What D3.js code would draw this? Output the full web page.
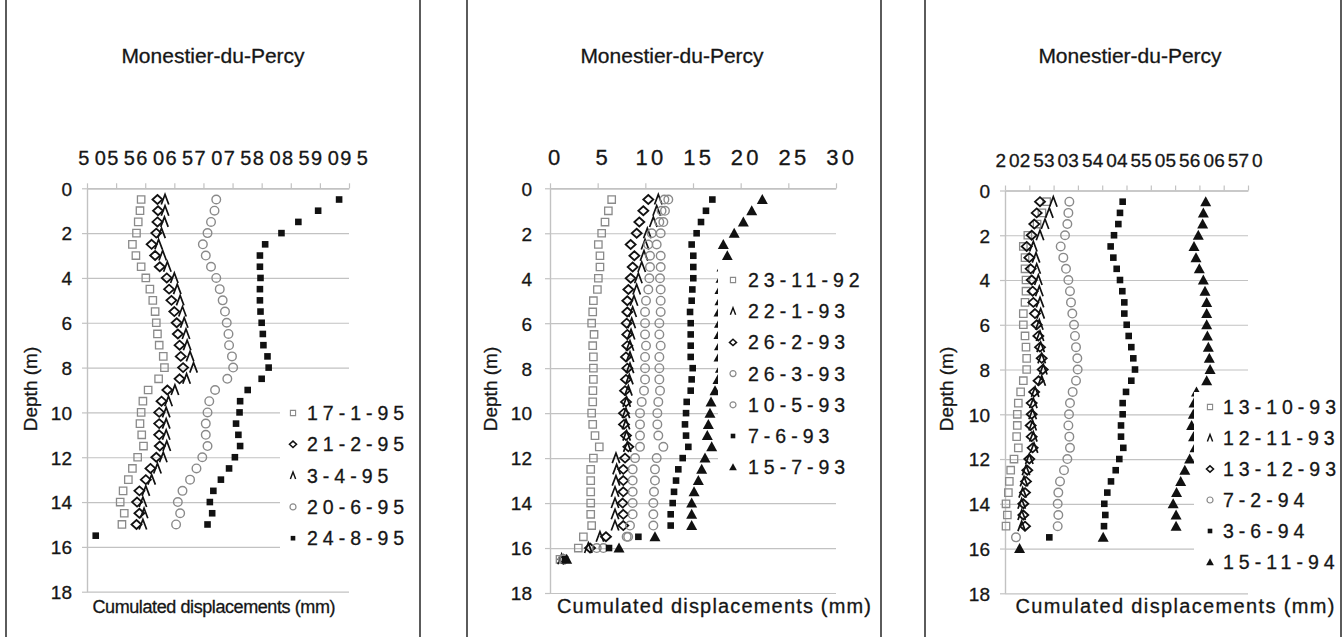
<!DOCTYPE html>
<html>
<head>
<meta charset="utf-8">
<script src="https://cdn.jsdelivr.net/npm/d3@7"></script>
<style>
  body { margin: 0; background: #fff; }
  svg { display: block; }
  text { font-family: "Liberation Sans", Arial, Helvetica, sans-serif; fill: #161616; stroke: #161616; stroke-width: 0.3px; }
</style>
</head>
<body>
<svg id="chart" width="1344" height="637"></svg>
<script>
// ---------------------------------------------------------------
// Inclinometer readings, Monestier-du-Percy
// depth levels (m) at which the probe was read
const depthLevels = [0.5, 1.0, 1.5, 2.0, 2.5, 3.0, 3.5, 4.0, 4.5, 5.0,
                     5.5, 6.0, 6.5, 7.0, 7.5, 8.0, 8.5, 9.0, 9.5, 10.0,
                     10.5, 11.0, 11.5, 12.0, 12.5, 13.0, 13.5, 14.0, 14.5, 15.0,
                     15.5, 16.0, 16.5];

const depthTicks = [0, 2, 4, 6, 8, 10, 12, 14, 16, 18];

// --- 1995 campaign (mm)
const tickLabels1995 = [50, 55, 60, 65, 70, 75, 80, 85, 90, 95];
const d17_1_95 = [59.3, 59.1, 58.8, 58.5, 57.8, 58.4, 59.3, 60.1, 60.8, 61.3, 61.7, 61.9, 62.1, 62.4, 63.1,
                  63.3, 62.3, 60.5, 59.6, 59.3, 59.1, 59.4, 59.7, 58.7, 57.8, 57.1, 56.2, 55.7, 56.4, 56.0];
const d21_2_95 = [62.1, 62.2, 62.1, 61.9, 61.1, 61.7, 62.5, 63.7, 64.1, 64.5, 65.0, 65.4, 65.6, 65.9, 66.1,
                  66.5, 65.9, 63.8, 62.8, 62.4, 62.4, 62.4, 62.5, 61.9, 60.9, 60.1, 59.0, 58.6, 59.0, 58.5];
const d3_4_95  = [63.4, 63.4, 63.3, 62.8, 62.3, 63.0, 63.8, 65.0, 65.5, 66.0, 66.4, 66.7, 67.0, 67.2, 67.7,
                  68.3, 67.1, 65.1, 64.0, 63.6, 63.6, 63.6, 63.7, 63.1, 62.1, 61.1, 60.1, 59.6, 59.8, 59.6];
const d20_6_95 = [72.2, 71.9, 71.3, 70.7, 69.9, 70.4, 71.3, 72.2, 72.8, 73.3, 73.7, 74.0, 74.3, 74.4, 74.9,
                  75.1, 74.1, 72.0, 71.0, 70.7, 70.4, 70.4, 70.7, 69.8, 68.8, 67.7, 66.4, 65.6, 66.0, 65.3];
const d24_8_95 = [93.3, 89.7, 86.3, 83.4, 80.6, 79.7, 79.7, 79.8, 79.7, 79.7, 79.8, 80.0, 80.2, 80.3, 81.0,
                  81.2, 80.0, 77.6, 76.3, 76.2, 75.6, 76.0, 76.3, 75.4, 74.4, 73.0, 71.7, 71.1, 71.5, 70.7, 51.5];

// --- 1992-93 campaign (mm)
const tickLabels1993 = [0, 5, 10, 15, 20, 25, 30];
const d23_11_92 = [6.47, 6.12, 5.77, 5.42, 5.07, 5.24, 5.24, 5.07, 4.97, 4.55, 4.48, 4.37, 4.62, 4.48, 4.55,
                   4.55, 4.55, 4.50, 4.48, 4.37, 4.48, 4.72, 5.17, 4.55, 4.27, 4.27, 4.27, 4.27, 4.27, 4.37,
                   3.50, 2.97, 1.05];
const d22_1_93 = [11.36, 11.19, 10.84, 10.21, 9.97, 9.86, 9.62, 9.27, 9.09, 8.81, 8.67, 8.57, 8.50, 8.39, 8.39,
                  8.39, 8.32, 8.22, 8.04, 7.97, 7.97, 8.04, 8.11, 6.92, 6.99, 6.92, 6.82, 6.82, 6.82, 6.82,
                  5.24, 4.02, 1.22];
const d26_2_93 = [10.31, 9.79, 9.37, 9.09, 8.46, 8.85, 8.67, 8.46, 8.22, 8.11, 8.11, 8.04, 8.11, 8.11, 7.97,
                  8.11, 7.97, 7.87, 7.97, 7.76, 7.76, 7.97, 8.22, 7.87, 7.69, 7.69, 7.69, 7.62, 7.69, 7.69,
                  5.87, 4.20, 1.40];
const d26_3_93 = [12.00, 11.70, 11.47, 10.67, 10.31, 10.49, 10.49, 10.42, 10.31, 10.07, 9.97, 9.97, 9.97, 10.07, 9.97,
                  9.97, 9.97, 9.86, 9.62, 9.44, 9.44, 9.44, 9.44, 8.92, 8.67, 8.67, 8.67, 8.67, 8.67, 8.39,
                  8.04, 4.90, 1.33];
const d10_5_93 = [12.41, 12.06, 11.89, 11.61, 11.19, 11.61, 11.61, 11.54, 11.61, 11.61, 11.61, 11.47, 11.47, 11.61, 11.47,
                  11.47, 11.47, 11.54, 11.36, 11.26, 11.26, 11.36, 11.89, 11.19, 11.01, 11.01, 10.91, 10.84, 10.84, 10.84,
                  8.20, 5.60, 1.50];
const d7_6_93 = [17.03, 16.36, 15.84, 15.38, 14.86, 15.03, 15.03, 15.03, 14.93, 14.86, 14.69, 14.76, 14.76, 14.76, 14.76,
                 14.97, 14.86, 14.76, 14.34, 14.27, 14.16, 14.27, 14.51, 13.92, 13.46, 13.22, 13.01, 12.87, 12.66, 12.66,
                 9.27, 6.19, 1.57];
const d15_7_93 = [22.27, 21.16, 20.28, 19.32, 18.18, 18.60, 18.04, 17.94, 17.83, 17.83, 17.73, 17.78, 17.73, 17.78, 17.73,
                  17.88, 17.62, 17.31, 16.89, 16.78, 16.61, 16.50, 16.96, 16.26, 15.91, 15.56, 15.11, 14.86, 14.86, 14.86,
                  11.01, 7.24, 1.75];

// --- 1993-94 campaign (mm)
const tickLabels1994 = [20, 25, 30, 35, 40, 45, 50, 55, 60, 65, 70];
const d13_10_93 = [28.57, 27.60, 26.60, 24.70, 23.77, 24.12, 24.12, 24.32, 24.32, 24.12, 23.77, 23.77, 24.12, 24.32, 24.46,
                   24.46, 23.77, 23.22, 22.74, 22.53, 22.53, 22.40, 22.74, 21.85, 21.17, 20.89, 20.69, 20.21, 20.48, 20.21];
const d12_11_93 = [29.94, 29.12, 28.23, 27.20, 25.83, 26.38, 26.52, 26.86, 27.06, 27.20, 27.34, 27.06, 27.20, 27.34, 27.55,
                   27.89, 27.55, 26.20, 25.83, 25.69, 25.69, 25.83, 25.97, 25.00, 24.32, 23.91, 23.64, 23.43, 23.43, 23.43];
const d13_12_93 = [27.20, 26.52, 26.03, 25.49, 24.46, 25.00, 25.28, 25.49, 25.69, 25.83, 26.17, 26.52, 26.86, 27.20, 27.55,
                   27.76, 26.90, 26.00, 25.49, 25.49, 25.28, 25.49, 25.69, 25.00, 24.59, 24.32, 24.12, 23.77, 23.77, 24.12];
const d7_2_94 = [33.24, 33.04, 32.83, 32.35, 31.46, 32.00, 32.55, 33.04, 33.37, 33.58, 33.85, 34.20, 34.40, 34.61, 34.88,
                 34.95, 34.61, 33.92, 33.37, 33.17, 33.04, 33.24, 33.37, 32.83, 32.14, 31.32, 30.97, 30.84, 30.97, 30.84,
                 22.26];
const d3_6_94 = [44.21, 43.66, 43.32, 42.43, 41.74, 42.29, 42.98, 43.66, 44.14, 44.55, 44.55, 45.04, 45.45, 45.99, 46.40,
                 46.75, 45.99, 44.90, 44.21, 44.21, 43.87, 43.87, 44.34, 43.52, 42.78, 41.81, 41.05, 40.43, 40.64, 40.37,
                 29.12];
const d15_11_94 = [61.30, 60.81, 60.67, 59.77, 58.89, 59.30, 59.98, 60.81, 61.15, 61.50, 61.50, 61.50, 61.64, 61.84, 62.04,
                   62.20, 61.50, 59.40, 58.90, 58.75, 58.40, 58.80, 59.10, 58.00, 57.00, 56.15, 55.30, 54.60, 55.20, 55.20,
                   40.20, 23.00];

const siteName = "Monestier-du-Percy";
const xTitle = "Cumulated displacements (mm)";
const yTitle = "Depth (m)";

const panels = [
  { domain: [50, 95], ticks: tickLabels1995, series: [
      { label: "17-1-95", values: d17_1_95, marker: "openSquare" },
      { label: "21-2-95", values: d21_2_95, marker: "diamond" },
      { label: "3-4-95",  values: d3_4_95,  marker: "caret" },
      { label: "20-6-95", values: d20_6_95, marker: "openCircle" },
      { label: "24-8-95", values: d24_8_95, marker: "filledSquare" } ] },
  { domain: [0, 30], ticks: tickLabels1993, series: [
      { label: "23-11-92", values: d23_11_92, marker: "openSquare" },
      { label: "22-1-93",  values: d22_1_93,  marker: "caret" },
      { label: "26-2-93",  values: d26_2_93,  marker: "diamond" },
      { label: "26-3-93",  values: d26_3_93,  marker: "openCircle" },
      { label: "10-5-93",  values: d10_5_93,  marker: "openCircle" },
      { label: "7-6-93",   values: d7_6_93,   marker: "filledSquare" },
      { label: "15-7-93",  values: d15_7_93,  marker: "filledTriangle" } ] },
  { domain: [20, 70], ticks: tickLabels1994, series: [
      { label: "13-10-93", values: d13_10_93, marker: "openSquare" },
      { label: "12-11-93", values: d12_11_93, marker: "caret" },
      { label: "13-12-93", values: d13_12_93, marker: "diamond" },
      { label: "7-2-94",   values: d7_2_94,   marker: "openCircle" },
      { label: "3-6-94",   values: d3_6_94,   marker: "filledSquare" },
      { label: "15-11-94", values: d15_11_94, marker: "filledTriangle" } ] }
];

// ---------------------------------------------------------------
// layout of each frame
const layouts = [
  { frame: [6, 420], x0: 87, x1: 349, y0: 188.3, y1: 591.7, titleX: 213,
    tick: { size: 20, ls: 5.5, shift: 4.5, pad: 18.3 }, yPad: 10, depthX: 30,
    xTitleCx: 214, xTitleW: 243, xTitleSize: 18,
    legend: { box: [280, 392, 418, 562], mx: 293, tx: 307, y: 413, step: 31.3 } },
  { frame: [467, 881], x0: 550, x1: 836, y0: 188.3, y1: 593, titleX: 672,
    tick: { size: 22, ls: 3.3, shift: 3.5, pad: 18.3 }, yPad: 13, depthX: 490,
    xTitleCx: 714, xTitleW: 314, xTitleSize: 20,
    legend: { box: [718, 260, 879, 490], mx: 733, tx: 748, y: 280, step: 31.2 } },
  { frame: [925, 1341], x0: 1005, x1: 1248, y0: 190.5, y1: 593.3, titleX: 1130,
    tick: { size: 19, ls: 3, shift: 2, pad: 18.5 }, yPad: 10, depthX: 946,
    xTitleCx: 1175, xTitleW: 319, xTitleSize: 20,
    legend: { box: [1194, 392, 1339, 582], mx: 1210, tx: 1223, y: 407, step: 31 } }
];

const GRID = "#c2c2c2";
const markerStyle = {
  openSquare:     { stroke: "#8a8a8a", fill: "none", sw: 1.3 },
  diamond:        { stroke: "#111",    fill: "none", sw: 1.8 },
  caret:          { stroke: "#111",    fill: "none", sw: 1.7 },
  openCircle:     { stroke: "#8a8a8a", fill: "none", sw: 1.4 },
  filledSquare:   { stroke: "none",    fill: "#111", sw: 0 },
  filledTriangle: { stroke: "none",    fill: "#111", sw: 0 }
};

function markerPath(type, k) {
  switch (type) {
    case "openSquare": { const s = 7.4 * k; return `M${-s/2},${-s/2}h${s}v${s}h${-s}Z`; }
    case "diamond": { const w = 10 * k, h = 9 * k; return `M0,${-h/2}L${w/2},0L0,${h/2}L${-w/2},0Z`; }
    case "caret": { const w = 7.5 * k, h = 10 * k; return `M${-w/2},${h/2}L0,${-h/2}L${w/2},${h/2}`; }
    case "openCircle": { const r = 4.3 * k; return `M${r},0A${r},${r},0,1,1,${-r},0A${r},${r},0,1,1,${r},0Z`; }
    case "filledSquare": { const s = 6.6 * k; return `M${-s/2},${-s/2}h${s}v${s}h${-s}Z`; }
    case "filledTriangle": { const w = 11 * k, h = 10 * k; return `M0,${-h*0.55}L${w/2},${h*0.45}L${-w/2},${h*0.45}Z`; }
  }
}

const svg = d3.select("#chart");
svg.append("rect").attr("width", 1344).attr("height", 637).attr("fill", "#fff");

panels.forEach((p, pi) => {
  const L = layouts[pi];
  const g = svg.append("g");

  // frame sides
  L.frame.forEach(fx => g.append("line")
    .attr("x1", fx).attr("x2", fx).attr("y1", -2).attr("y2", 640)
    .attr("stroke", "#333").attr("stroke-width", 1.6));

  const x = d3.scaleLinear().domain(p.domain).range([L.x0, L.x1]);
  const y = d3.scaleLinear().domain([0, 18]).range([L.y0, L.y1]);

  // title
  g.append("text").attr("x", L.titleX).attr("y", 63)
    .attr("text-anchor", "middle").attr("font-size", 21)
    .text(siteName);

  // horizontal gridlines
  g.append("g").attr("transform", `translate(${L.x0},0)`)
    .call(d3.axisLeft(y).tickValues(depthTicks).tickSize(-(L.x1 - L.x0)).tickFormat(""))
    .call(a => a.select(".domain").remove())
    .call(a => a.selectAll(".tick line").attr("stroke", GRID).attr("stroke-width", 1.2));

  // depth axis (left)
  g.append("g").attr("transform", `translate(${L.x0},0)`)
    .call(d3.axisLeft(y).tickValues(depthTicks).tickSize(5).tickSizeOuter(0).tickPadding(L.yPad))
    .call(a => a.select(".domain").attr("stroke", GRID).attr("stroke-width", 1.4))
    .call(a => a.selectAll(".tick line").attr("stroke", GRID).attr("stroke-width", 1.2))
    .call(a => a.selectAll(".tick text").attr("font-size", 19).attr("fill", "#161616")
      .attr("font-family", "Liberation Sans, Arial, sans-serif").attr("dy", "0.36em"));

  // displacement axis (top)
  g.append("g").attr("transform", `translate(0,${L.y0})`)
    .call(d3.axisTop(x).tickValues(p.ticks).tickSize(5).tickSizeOuter(0).tickPadding(L.tick.pad))
    .call(a => a.select(".domain").attr("stroke", GRID).attr("stroke-width", 1.4))
    .call(a => a.selectAll(".tick line").attr("stroke", GRID).attr("stroke-width", 1.2))
    .call(a => a.selectAll(".tick text").attr("font-size", L.tick.size).attr("fill", "#161616")
      .attr("font-family", "Liberation Sans, Arial, sans-serif")
      .attr("letter-spacing", L.tick.ls).attr("dx", L.tick.shift + L.tick.ls / 2));

  // axis titles
  g.append("text")
    .attr("transform", `translate(${L.depthX + 7},${389}) rotate(-90)`)
    .attr("text-anchor", "middle").attr("font-size", 19)
    .text(yTitle);
  g.append("text").attr("x", L.xTitleCx - L.xTitleW / 2).attr("y", 613)
    .attr("font-size", L.xTitleSize).attr("textLength", L.xTitleW).attr("lengthAdjust", "spacing")
    .text(xTitle);

  // readings
  p.series.forEach(s => {
    const st = markerStyle[s.marker];
    g.append("g").selectAll("path")
      .data(s.values.map((v, i) => ({ v, d: depthLevels[i] })))
      .join("path")
      .attr("transform", d => `translate(${x(d.v)},${y(d.d)})`)
      .attr("d", markerPath(s.marker, 1))
      .attr("fill", st.fill).attr("stroke", st.stroke).attr("stroke-width", st.sw)
      .attr("stroke-linejoin", "miter");
  });

  // legend
  const lg = L.legend;
  g.append("rect").attr("x", lg.box[0]).attr("y", lg.box[1])
    .attr("width", lg.box[2] - lg.box[0]).attr("height", lg.box[3] - lg.box[1])
    .attr("fill", "#fff");
  const items = g.append("g").selectAll("g").data(p.series).join("g")
    .attr("transform", (d, i) => `translate(0,${lg.y + i * lg.step})`);
  items.append("path")
    .attr("transform", `translate(${lg.mx},0)`)
    .attr("d", d => markerPath(d.marker, 0.7))
    .attr("fill", d => markerStyle[d.marker].fill)
    .attr("stroke", d => markerStyle[d.marker].stroke)
    .attr("stroke-width", d => markerStyle[d.marker].sw * 0.85);
  items.append("text").attr("x", lg.tx).attr("y", 0).attr("dy", "0.36em")
    .attr("font-size", 19.5).attr("letter-spacing", 5)
    .text(d => d.label);
});
</script>
</body>
</html>
